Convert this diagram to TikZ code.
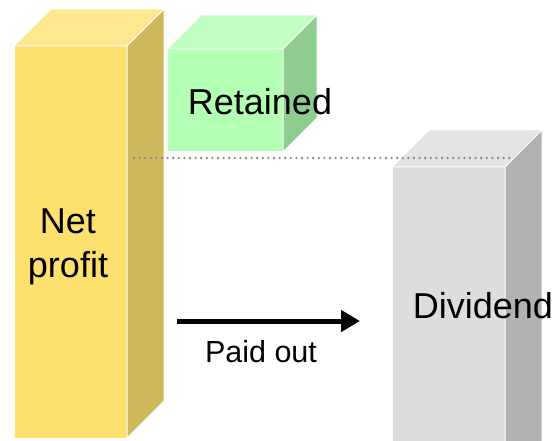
\documentclass[tikz,border=0pt]{standalone}
\usepackage{fontspec}
\setmainfont{Liberation Sans}
\usetikzlibrary{arrows.meta}

\definecolor{yfront}{HTML}{FDE06E}
\definecolor{ytop}{HTML}{FEE88F}
\definecolor{yside}{HTML}{CDB85C}
\definecolor{gfront}{HTML}{B3FFB3}
\definecolor{gtop}{HTML}{C2FFC2}
\definecolor{gside}{HTML}{8FCC8F}
\definecolor{dfront}{HTML}{DDDDDD}
\definecolor{dtop}{HTML}{E3E3E3}
\definecolor{dside}{HTML}{B2B2B2}
\definecolor{dotgray}{HTML}{8A8A8A}

% \prism{x}{y}{width}{height}{depth}{front}{top}{side}
\newcommand{\prism}[8]{%
  \fill[#6,face] (#1,#2) rectangle ++(#3,#4);
  \draw[face] (#1,#2) rectangle ++(#3,#4);
  \filldraw[face,fill=#7] (#1,#2) -- ++(#5,-#5) -- ++(#3,0) -- ++(-#5,#5) -- cycle;
  \filldraw[face,fill=#8] (#1+#3,#2) -- ++(#5,-#5) -- ++(0,#4) -- ++(-#5,#5) -- cycle;
}

\begin{document}
\begin{tikzpicture}[x=1pt,y=-1pt,
    face/.style={draw=white,line width=1pt,line join=miter},
    label/.style={font=\fontsize{36}{44}\selectfont,align=center,inner sep=0pt},
    small/.style={font=\fontsize{30.5}{36}\selectfont,inner sep=0pt},
    flow/.style={line width=5pt,-{Triangle[length=19pt,width=21pt]}},
    level/.style={dotgray,line width=2.6pt,line cap=round,dash pattern=on 0pt off 5.6pt}]
  \useasboundingbox (0,0) rectangle (555,441);
  \clip (0,0) rectangle (555,441);

  % net profit column
  \prism{14}{46}{113}{392}{37}{yfront}{ytop}{yside}
  % retained block
  \prism{167}{49}{116}{103}{34}{gfront}{gtop}{gside}
  % dividend column
  \prism{392}{167}{113}{313}{37}{dfront}{dtop}{dside}

  % dotted level line
  \coordinate (lvlA) at (134,158);
  \coordinate (lvlB) at (512,158);
  \draw[level] (lvlA) -- (lvlB);

  % labels (base anchor sits on the last line)
  \node[label,anchor=base] (net) at (68,277) {Net\\profit};
  \node[label,anchor=base] (ret) at (260,115) {Retained};
  \node[label,anchor=base] (div) at (483,319) {Dividend};
  \node[small,anchor=base] (paid) at (261,362) {Paid out};

  % payout arrow
  \coordinate (arrA) at (177,321);
  \coordinate (arrB) at (360,321);
  \draw[flow] (arrA) -- (arrB);
\end{tikzpicture}
\end{document}
